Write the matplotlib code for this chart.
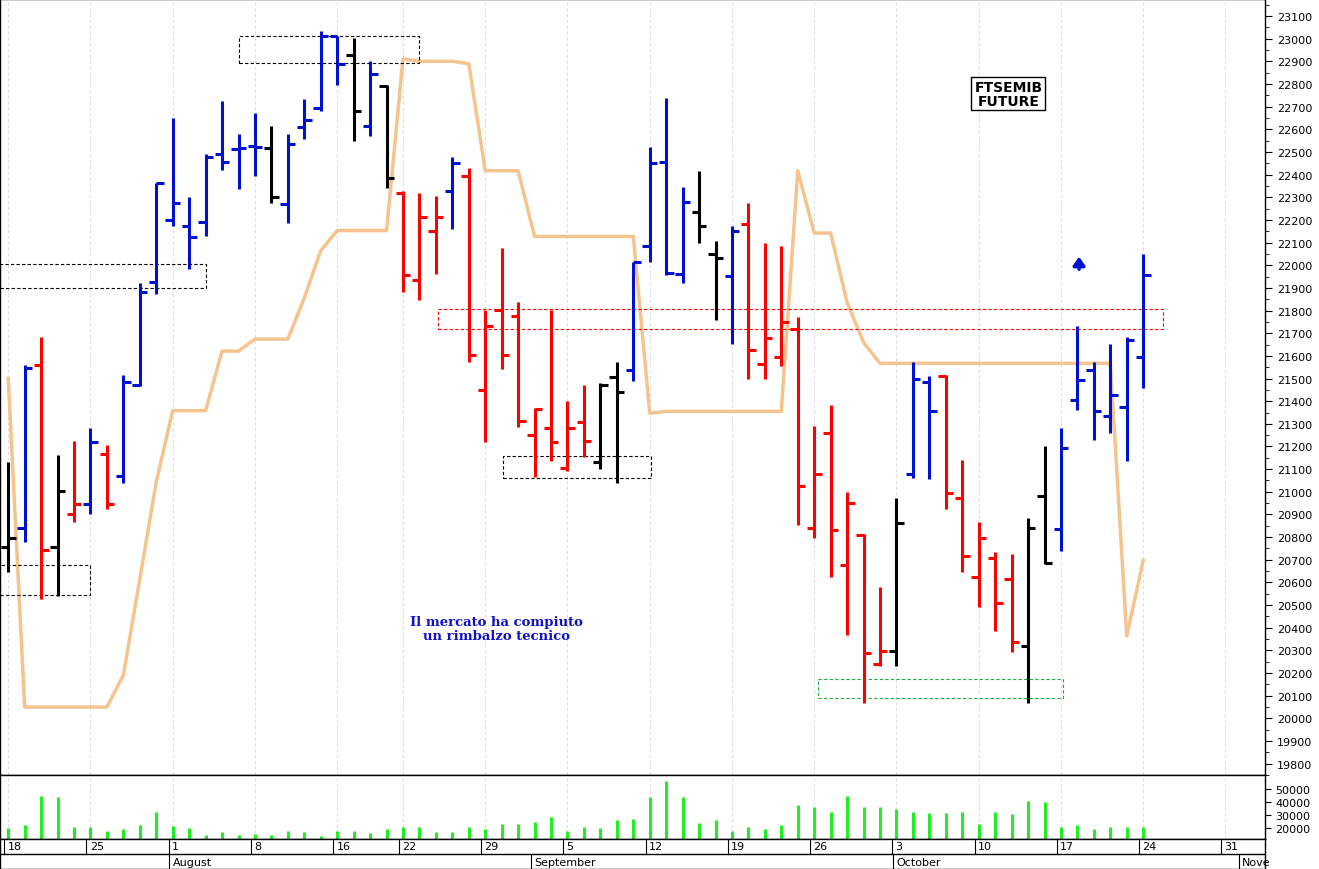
import matplotlib
matplotlib.use("Agg")
import matplotlib.pyplot as plt
from matplotlib.patches import Rectangle

opens  = [20758,20842,21560,20758,20901,20945,21169,21070,21472,21926,22201,22175,22193,22489,22511,22527,22516,22270,22608,22696,
          23010,22926,22614,22790,22318,21933,22153,22329,22395,21450,21801,21775,21252,21281,21105,21307,21131,21505,21538,22087,
          22454,21962,22237,22050,21951,22182,21564,21597,21720,20842,21259,20675,20808,20242,20297,21077,21483,21512,20971,20626,
          20710,20615,20319,20982,20835,21406,21538,21334,21373,21593]
highs  = [21131,21560,21685,21164,21224,21281,21208,21516,21922,22362,22652,22302,22489,22724,22577,22674,22614,22581,22735,23032,
          23010,23003,22900,22797,22329,22318,22307,22476,22428,21801,22076,21839,21369,21801,21400,21472,21479,21575,22015,22520,
          22740,22344,22417,22109,22175,22274,22098,22083,21773,21290,21384,21000,20813,20582,20973,21571,21512,21516,21142,20868,
          20736,20725,20885,21204,21281,21731,21571,21654,21685,22048]
lows   = [20648,20780,20527,20538,20868,20901,20923,21039,21465,21874,22175,21982,22131,22421,22335,22395,22274,22186,22555,22680,
          22797,22549,22570,22340,21883,21845,21962,22160,21571,21219,21544,21285,21065,21136,21092,21153,21099,21039,21487,22015,
          21955,21922,22098,21758,21654,21498,21498,21555,20852,20797,20622,20367,20066,20231,20231,21061,21055,20923,20644,20490,
          20385,20292,20066,20681,20740,21362,21230,21259,21136,21457]
closes = [20795,21545,20743,21004,20945,21219,20945,21483,21883,22362,22274,22124,22478,22454,22516,22520,22300,22533,22641,23010,
          22889,22680,22845,22384,21955,22212,22215,22450,21602,21731,21602,21314,21367,21219,21281,21226,21472,21439,22015,22450,
          21966,22278,22175,22032,22153,21626,21681,21751,21026,21077,20831,20949,20290,20297,20861,21500,21358,20993,20718,20795,
          20510,20336,20841,20688,21193,21494,21358,21428,21670,21955]
bar_colors = (list("kbrkrbr") + ["b"]*9 + ["k"] + ["b"]*4 + ["k", "b", "k"] + ["r"]*3 + ["b"] + ["r"]*8 +
              ["k"]*2 + ["b"]*4 + ["k"]*2 + ["b"] + ["r"]*9 + ["k"] + ["b"]*2 + ["r"]*5 + ["k"]*2 + ["b"]*6)
orange = [21500,20050,20050,20050,20050,20050,20050,20191,20615,21044,21358,21358,21358,21621,21621,21674,21674,21674,21856,22065,
          22153,22153,22153,22153,22911,22900,22900,22900,22889,22417,22417,22417,22127,22127,22127,22127,22127,22127,22127,21347,
          21355,21355,21355,21355,21355,21355,21355,21355,22417,22142,22142,21835,21659,21567,21567,21567,21567,21567,21567,21567,
          21567,21567,21567,21567,21567,21567,21567,21567,20363,20697]
volume = [20000,22500,44200,43400,21000,21000,17900,19400,22100,31800,21400,20000,14800,16900,14800,15200,14400,17300,16900,13800,
          17300,17300,16300,19400,21000,20400,16900,16500,21000,19400,23100,23100,24800,28700,17900,21000,20000,26200,26600,43400,
          56200,43400,24100,26200,17900,21000,19000,22500,37600,36100,32400,44400,35900,35900,34500,32400,31400,31400,31800,23100,
          31800,31000,40700,40100,21000,22500,19000,20400,21000,21000]
day_ticks = [0,5,10,15,20,24,29,34,39,44,49,54,59,64,69,74]
day_labels = ["18","25","1","8","16","22","29","5","12","19","26","3","10","17","24","31"]
month_ticks = [10,32,54,75]
month_labels = ["August","September","October","Nove"]
# boxes: x0, x1, y0, y1, edge colour
boxes = [(-0.5,12.0,21900,22006,"k"),(-0.5,5.0,20543,20675,"k"),(14.0,25.0,22893,23012,"k"),
         (26.1,70.2,21720,21808,"r"),(30.1,39.1,21061,21158,"k"),(49.2,64.1,20090,20174,"#22aa44")]

cmap = {"k":"black","b":"#0010d0","r":"#ff0000"}
fig = plt.figure(figsize=(13.19,8.7), dpi=100)
ax = fig.add_axes([0.0,0.108,0.959,0.892])
axv = fig.add_axes([0.0,0.0345,0.959,0.0736], sharex=ax)
axd = fig.add_axes([0.0,0.0,0.959,0.0345], sharex=ax)

n = len(opens)
xs = list(range(n))
for i in xs:
    c = cmap[bar_colors[i]]
    ax.vlines(i, lows[i], highs[i], color=c, lw=2.2)
    ax.hlines(opens[i], i-0.45, i, color=c, lw=2.2)
    ax.hlines(closes[i], i, i+0.45, color=c, lw=2.2)
ax.plot(xs, orange, color="#f5c48e", lw=2.5, zorder=1)
for x0,x1,y0,y1,ec in boxes:
    ax.add_patch(Rectangle((x0,y0),x1-x0,y1-y0,fill=False,ls=(0,(3,2)),lw=0.8,ec=ec))
ax.annotate("", xy=(65.1,22050), xytext=(65.1,21970),
            arrowprops=dict(arrowstyle="-|>,head_width=0.35,head_length=0.5",color="#0010d0",lw=2.5))
ax.text(60.8,22757,"FTSEMIB\nFUTURE",ha="center",va="center",fontsize=10,fontweight="bold",
        family="DejaVu Sans",linespacing=1.0,bbox=dict(fc="white",ec="black",lw=1,pad=2))
ax.text(29.7,20398,"Il mercato ha compiuto\nun rimbalzo tecnico",ha="center",va="center",
        fontsize=9.5,fontweight="bold",color="#1010c0",family="DejaVu Serif",linespacing=1.1)

ax.set_xlim(-0.5,76.4)
ax.set_ylim(19765,23175)
ax.yaxis.tick_right()
ax.set_yticks(range(19800,23101,100))
ax.set_yticks(range(19750,23175,50), minor=True)
ax.tick_params(axis="y", labelsize=8, direction="out", length=5)
ax.tick_params(axis="y", which="minor", length=3)
ax.tick_params(axis="x", bottom=False, labelbottom=False)
for t in day_ticks:
    for a in (ax, axv):
        a.axvline(t, color="#d8d8e8", ls=(0,(3,3)), lw=0.7, zorder=0)

axv.vlines(xs, 0, volume, color="#22ee22", lw=2.2)
axv.set_ylim(11500,60500)
axv.yaxis.tick_right()
axv.set_yticks([20000,30000,40000,50000])
axv.tick_params(axis="y", labelsize=8, length=4)
axv.tick_params(axis="x", bottom=False, labelbottom=False)

axd.set_ylim(0,1)
axd.set_yticks([])
axd.tick_params(axis="x", bottom=False, labelbottom=False)
axd.axhline(0.5, color="black", lw=1)
for t,l in zip(day_ticks, day_labels):
    axd.plot([t-0.25,t-0.25],[0.5,1],color="black",lw=0.8)
    axd.text(t-0.05,0.75,l,ha="left",va="center",fontsize=8)
for t,l in zip(month_ticks, month_labels):
    axd.plot([t-0.2,t-0.2],[0,0.5],color="black",lw=0.8)
    axd.text(t,0.22,l,ha="left",va="center",fontsize=8)
for a in (ax,axv,axd):
    for s in a.spines.values():
        s.set_linewidth(1)

fig.savefig("out.png", dpi=100)
